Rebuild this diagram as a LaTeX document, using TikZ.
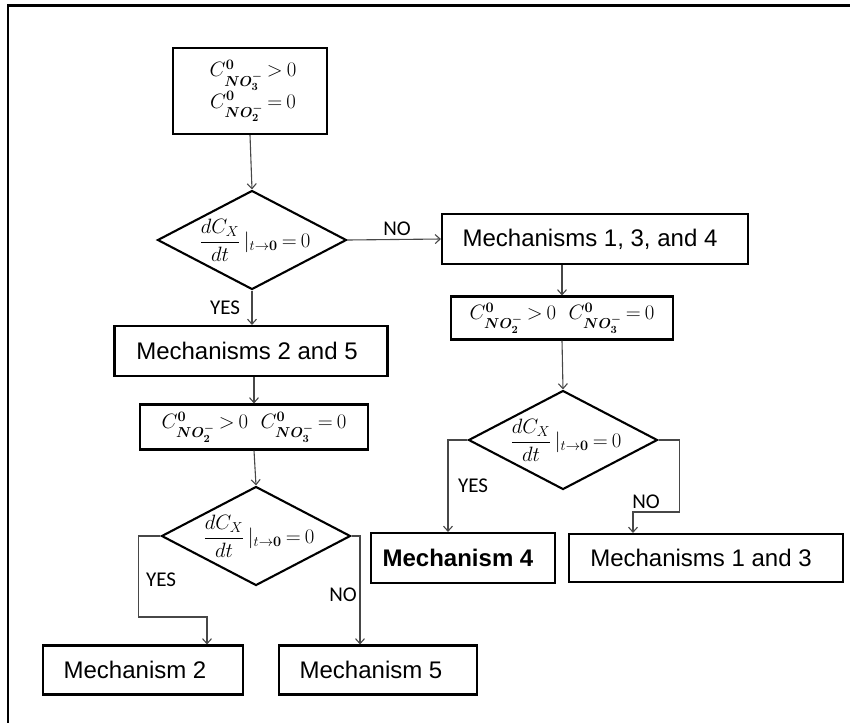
\documentclass[tikz,border=0pt]{standalone}
\usepackage{amsmath}
\usepackage{fontspec}
\usepackage{bm}
\setmainfont{Liberation Sans}
\newfontfamily\lblfont{Carlito}
\usetikzlibrary{shapes.geometric,arrows.meta}
\newcommand{\mfont}{\fontsize{22.5}{27}\selectfont\thickmuskip=3.5mu plus 2mu}
\tikzset{
  box/.style={draw=black, line width=2.1pt, inner sep=0pt, font=\fontsize{24}{28}\selectfont},
  mathbox/.style={box, font=\mfont, align=center},
  dia/.style={draw=black, diamond, line width=2.1pt, inner sep=0pt, minimum width=189pt, minimum height=99pt},
  diatext/.style={inner sep=0pt, font=\mfont},
  conn/.style={draw=black!72, line width=1.1pt},
  arr/.style={conn, -{Straight Barb[length=5pt,width=9pt]}},
  lbl/.style={font=\lblfont\fontsize{21}{25}\selectfont, inner sep=0pt},
}
\newcommand{\dcond}{$\dfrac{dC_{X}}{dt}\,|_{t\to\bm{0}} = 0$}
\begin{document}
\begin{tikzpicture}[x=1pt,y=-1pt]
\useasboundingbox (0,0) rectangle (850,723);
% frame
\draw[line width=2.4pt] (850,5.5) -- (8,5.5) -- (8,723);

% left column
\node[mathbox, minimum width=154pt, minimum height=86pt] (b1) at (250,91)
  {\hspace*{6pt}$C^{\bm 0}_{\bm{NO_3^-}} > 0$\\[0pt] \hspace*{6pt}$C^{\bm 0}_{\bm{NO_2^-}} = 0$};
\node[dia] (d1) at (252,240) {};
\node[diatext] (t1) at (255,240) {\dcond};
\node[box, minimum width=273pt, minimum height=50pt] (m25) at (251,351) {\hspace*{-8pt}Mechanisms 2 and 5};
\node[mathbox, minimum width=228pt, minimum height=45pt] (c2) at (254,427)
  {$C^{\bm 0}_{\bm{NO_2^-}} > 0\ \ C^{\bm 0}_{\bm{NO_3^-}} = 0$};
\node[dia] (d2) at (256,536) {};
\node[diatext] (t2) at (259,536) {\dcond};
\node[box, minimum width=200pt, minimum height=49pt] (m2) at (143,670) {\hspace*{-16pt}Mechanism 2};
\node[box, minimum width=198pt, minimum height=49pt] (m5) at (378,670) {\hspace*{-14pt}Mechanism 5};

% right column
\node[box, minimum width=306pt, minimum height=50pt] (m134) at (595,239) {\hspace*{-10pt}Mechanisms 1, 3, and 4};
\node[mathbox, minimum width=222pt, minimum height=43pt] (c2r) at (562,318)
  {$C^{\bm 0}_{\bm{NO_2^-}} > 0\ \ C^{\bm 0}_{\bm{NO_3^-}} = 0$};
\node[dia] (d3) at (563,440) {};
\node[diatext] (t3) at (566,440) {\dcond};
\node[box, minimum width=184pt, minimum height=50pt] (m4) at (463,558) {\hspace*{-10pt}\textbf{Mechanism 4}};
\node[box, minimum width=274pt, minimum height=48pt] (m13) at (706,558) {\hspace*{-10pt}Mechanisms 1 and 3};

% connectors
\draw[arr] (b1.south) -- (d1.north);
\draw[arr] (d1.south) -- (m25.north -| d1.south);
\draw[arr] (d1.east) -- (m134.west);
\draw[arr] (m25.south -| c2.north) -- (c2.north);
\draw[arr] (c2.south) -- (d2.north);

\coordinate (k2) at (207,617);
\draw[arr] (d2.west) -- ++(-22,0) |- (k2) -- (k2 |- m2.north);
\draw[arr] (d2.east) -| ([xshift=-18pt]m5.north);

\draw[arr] (c2r.north |- m134.south) -- (c2r.north);
\draw[arr] (c2r.south) -- (d3.north);
\draw[arr] (d3.west) -| ([xshift=-15pt]m4.north);
\coordinate (k3) at (633,512);
\draw[arr] (d3.east) -- ++(21,0) |- (k3) -- (k3 |- m13.north);

% labels
\node[lbl] (l1) at (397,229) {NO};
\node[lbl] (l2) at (225,308) {YES};
\node[lbl] (l3) at (161,580) {YES};
\node[lbl] (l4) at (343,595) {NO};
\node[lbl] (l5) at (473,486) {YES};
\node[lbl] (l6) at (646,502) {NO};
\end{tikzpicture}
\end{document}
